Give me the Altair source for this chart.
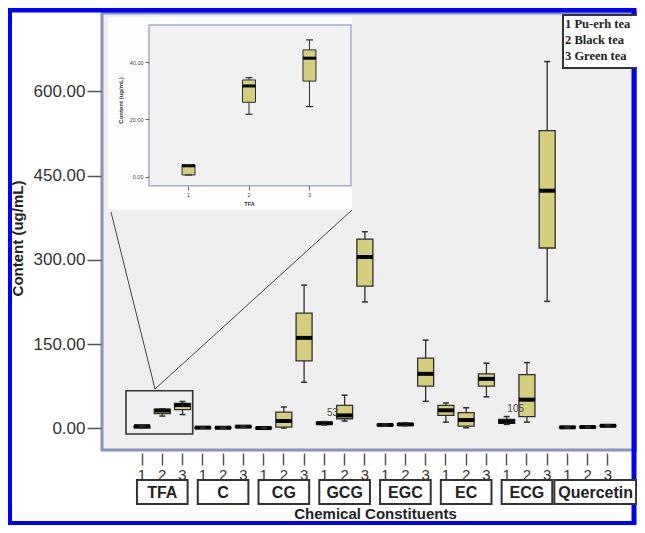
import altair as alt
import pandas as pd

# ---------------- data ----------------
constituents = ["TFA", "C", "CG", "GCG", "EGC", "EC", "ECG", "Quercetin"]
tea_codes = ["1", "2", "3"]
legend_lines = ["1 Pu-erh tea", "2 Black tea", "3 Green tea"]

# order: TFA1..3, C1..3, CG1..3, GCG1..3, EGC1..3, EC1..3, ECG1..3, Quercetin1..3
whisker_low = [0.6, 21.8, 24.5, 0.5, 0.3, 1.5, 0.0, 0.5, 82, 6, 13, 225,
               4, 4.5, 48, 11, 1, 56, 7, 11, 226, 0.5, 0.8, 2.5]
quart1 = [0.6, 26.0, 33.4, 0.8, 0.6, 2.2, 0.2, 2.0, 120, 7.5, 17, 253,
          5, 5.5, 75, 23, 4, 75, 9, 20.7, 321, 1.0, 1.5, 3.5]
median = [3.8, 31.7, 41.4, 1.2, 1.0, 3.0, 0.5, 13, 161, 9, 23, 305,
          6, 7, 97, 32, 14.7, 88, 12, 51, 423, 1.8, 2.3, 4.5]
quart3 = [4.1, 33.8, 44.3, 1.6, 1.4, 3.8, 0.8, 29, 205, 11, 41, 337,
          7, 8.5, 125, 40.7, 27.8, 97, 16, 95.6, 530, 2.5, 3.2, 5.5]
whisker_high = [4.1, 34.6, 47.8, 2.0, 1.8, 4.5, 1.0, 38, 255, 12, 59, 350,
                8, 10, 157, 45, 36.6, 116, 21, 117, 653, 3.0, 4.0, 6.5]

outlier_keys = ["GCG-2", "ECG-1"]
outlier_values = [27, 34]
outlier_labels = ["53", "105"]

main_ticks = [0, 150, 300, 450, 600]
inset_ticks = [0, 20, 40]

# ---------------- tables ----------------
keys = [f"{c}-{t}" for c in constituents for t in tea_codes]
df = pd.DataFrame({
    "key": keys,
    "group": [c for c in constituents for t in tea_codes],
    "tea": [t for c in constituents for t in tea_codes],
    "lo": whisker_low, "q1": quart1, "med": median, "q3": quart3, "hi": whisker_high,
})
inset_df = df[df["group"] == "TFA"].reset_index(drop=True)
groups_df = pd.DataFrame({
    "group": constituents,
    "first": [f"{c}-1" for c in constituents],
    "mid": [f"{c}-2" for c in constituents],
    "last": [f"{c}-3" for c in constituents],
})
out_df = pd.DataFrame({"key": outlier_keys, "val": outlier_values, "lab": outlier_labels})
one = pd.DataFrame({"a": [0]})

FILL = "#d5cf7b"
EDGE = "#2e2e2e"
FONT = "Liberation Sans"

xscale = alt.Scale(domain=keys, range=[29.9, 516.1], paddingInner=0, paddingOuter=0)
yscale = alt.Scale(domain=[-38.6, 739.4], nice=False, zero=False)

x_axis = alt.Axis(orient="bottom", labelExpr="slice(datum.value, -1)", labelAngle=0,
                  tickSize=12, offset=3, tickColor="#555", tickWidth=1.5,
                  labelFontSize=15, labelColor="#333", labelPadding=2, domain=False,
                  labelFont=FONT, title="Chemical Constituents", titleFontSize=15,
                  titleFont=FONT, titleFontWeight="bold", titleColor="#222",
                  titleY=53, titleBaseline="top", grid=False)
y_axis = alt.Axis(orient="left", values=main_ticks, format=".2f", tickSize=14, offset=1,
                  tickColor="#555", tickWidth=1.5, labelFontSize=17, labelColor="#333",
                  labelPadding=2, labelFont=FONT, domain=False, grid=False,
                  title="Content (ug/mL)", titleFont=FONT, titleFontSize=15,
                  titleFontWeight="bold", titleColor="#222", titleX=-84, titleY=225,
                  titleAngle=270, titleBaseline="middle")

def MX(field="key", **kw):
    return alt.X(f"{field}:N", scale=xscale, axis=x_axis, **kw)

def MY(field):
    return alt.Y(f"{field}:Q", scale=yscale, axis=y_axis)

# ---------------- decorative frames ----------------
blue_border = alt.Chart(one).mark_rect(fillOpacity=0, stroke="#0000ff", strokeWidth=5).encode(
    x=alt.value(-92.5), x2=alt.value(532), y=alt.value(-3), y2=alt.value(510.5))
inset_bg = alt.Chart(one).mark_rect(fill="#fdfdfd").encode(
    x=alt.value(6), x2=alt.value(250), y=alt.value(4), y2=alt.value(197))
inset_plot = alt.Chart(one).mark_rect(fill="#f1f1f1", stroke="#a4accb", strokeWidth=1.5).encode(
    x=alt.value(47), x2=alt.value(249), y=alt.value(12), y2=alt.value(172.7))
tfa_frame = alt.Chart(one).mark_rect(fillOpacity=0, stroke="#333", strokeWidth=1.6).encode(
    x=alt.value(24), x2=alt.value(90.7), y=alt.value(377.7), y2=alt.value(421))
zoom_line1 = alt.Chart(one).mark_rule(color="#444", strokeWidth=1).encode(
    x=alt.value(9), y=alt.value(199), x2=alt.value(53), y2=alt.value(376))
zoom_line2 = alt.Chart(one).mark_rule(color="#444", strokeWidth=1).encode(
    x=alt.value(250), y=alt.value(197), x2=alt.value(53), y2=alt.value(376))
legend_box = alt.Chart(one).mark_rect(fill="white", stroke="#333", strokeWidth=2).encode(
    x=alt.value(461), x2=alt.value(545), y=alt.value(2), y2=alt.value(55))
legend_text = alt.Chart(one).mark_text(text=legend_lines, align="left", baseline="top",
                                       font="Liberation Serif", fontWeight="bold",
                                       fontSize=12.5, lineHeight=16, color="#222").encode(
    x=alt.value(463), y=alt.value(5))

# ---------------- main box plots ----------------
base = alt.Chart(df)
whisk = base.mark_rule(color=EDGE, strokeWidth=1.3).encode(x=MX(), y=MY("lo"), y2="hi:Q")
box = base.mark_bar(size=16, fill=FILL, stroke=EDGE, strokeWidth=1.3).encode(
    x=MX(), y=MY("q1"), y2="q3:Q")
med = base.mark_tick(size=16, thickness=4, color="#000", opacity=1).encode(x=MX(), y=MY("med"))
cap_lo = base.mark_tick(size=6, thickness=1.5, color=EDGE, opacity=1).encode(x=MX(), y=MY("lo"))
cap_hi = base.mark_tick(size=6, thickness=1.5, color=EDGE, opacity=1).encode(x=MX(), y=MY("hi"))

out53 = alt.Chart(out_df[out_df["lab"] == "53"]).mark_text(
    fontSize=10, color="#444", font=FONT, dx=-12).encode(x=MX(), y=MY("val"), text="lab:N")
out105 = alt.Chart(out_df[out_df["lab"] == "105"]).mark_text(
    fontSize=10, color="#444", font=FONT, dx=9).encode(x=MX(), y=MY("val"), text="lab:N")

# group name boxes below the axis
g_main = groups_df[groups_df["group"] != "Quercetin"]
g_q = groups_df[groups_df["group"] == "Quercetin"]
gbox = alt.Chart(g_main).mark_rect(fill="white", stroke="#333", strokeWidth=2).encode(
    x=MX("first", bandPosition=0.25), x2=alt.X2("last:N", bandPosition=0.75),
    y=alt.value(467), y2=alt.value(491))
gbox_q = alt.Chart(g_q).mark_rect(fill="white", stroke="#333", strokeWidth=2,
                                  xOffset=-3, x2Offset=18).encode(
    x=MX("first", bandPosition=0), x2=alt.X2("last:N", bandPosition=1),
    y=alt.value(467), y2=alt.value(491))
gtext = alt.Chart(g_main).mark_text(fontSize=16, fontWeight="bold", font=FONT,
                                    color="#222", baseline="middle").encode(
    x=MX("mid"), y=alt.value(480), text="group:N")
gtext_q = alt.Chart(g_q).mark_text(fontSize=16, fontWeight="bold", font=FONT,
                                   color="#222", baseline="middle", dx=8).encode(
    x=MX("mid"), y=alt.value(480), text="group:N")

main_layer = alt.layer(whisk, blue_border, inset_bg, inset_plot,
                       box, med, cap_lo, cap_hi, out53, out105,
                       gbox, gbox_q, gtext, gtext_q,
                       tfa_frame, zoom_line1, zoom_line2, legend_box, legend_text)

# ---------------- inset (TFA zoom) ----------------
ixscale = alt.Scale(domain=tea_codes, range=[46, 248], paddingInner=0, paddingOuter=0.17)
iyscale = alt.Scale(domain=[-3.15, 53.0], range=[172.7, 12], nice=False, zero=False)
ix_axis = alt.Axis(orient="bottom", offset=-264.3, tickSize=4, labelFontSize=5.5,
                   labelPadding=3, labelAngle=0, domain=False, labelColor="#444",
                   tickColor="#666", labelFont=FONT, title="TFA", titleFontSize=5.5,
                   titleFont=FONT, titleFontWeight="bold", titleColor="#333",
                   titlePadding=3, zindex=1, grid=False)
iy_axis = alt.Axis(orient="left", offset=-47, values=inset_ticks, format=".2f", tickSize=4,
                   labelFontSize=5.5, labelPadding=2, domain=False, grid=False,
                   labelColor="#444", tickColor="#666", labelFont=FONT,
                   title="Content (ug/mL)", titleFontSize=6, titleFont=FONT,
                   titleFontWeight="bold", titleColor="#333", titleX=-29, titleY=87,
                   titleAngle=270, titleBaseline="middle", zindex=1)

ibase = alt.Chart(inset_df)
def IX():
    return alt.X("tea:N", scale=ixscale, axis=ix_axis)
def IY(field):
    return alt.Y(f"{field}:Q", scale=iyscale, axis=iy_axis)

i_whisk = ibase.mark_rule(color=EDGE, strokeWidth=1).encode(x=IX(), y=IY("lo"), y2="hi:Q")
i_box = ibase.mark_bar(size=13, fill=FILL, stroke=EDGE, strokeWidth=1).encode(
    x=IX(), y=IY("q1"), y2="q3:Q")
i_med = ibase.mark_tick(size=13, thickness=3, color="#000", opacity=1).encode(x=IX(), y=IY("med"))
i_cap_lo = ibase.mark_tick(size=7, thickness=1.2, color=EDGE, opacity=1).encode(x=IX(), y=IY("lo"))
i_cap_hi = ibase.mark_tick(size=7, thickness=1.2, color=EDGE, opacity=1).encode(x=IX(), y=IY("hi"))

inset_layer = alt.layer(i_whisk, i_box, i_med, i_cap_lo, i_cap_hi)

chart = alt.layer(main_layer, inset_layer).resolve_scale(
    x="independent", y="independent"
).properties(
    width=535, height=437,
    padding={"left": 94, "top": 5, "right": 0, "bottom": 75},
    autosize=alt.AutoSizeParams(type="none"),
    background="white",
).configure_view(fill="#efefef", stroke="#8a92bf", strokeWidth=3)

chart.save("out.html", embed_options={"renderer": "svg", "actions": False})
